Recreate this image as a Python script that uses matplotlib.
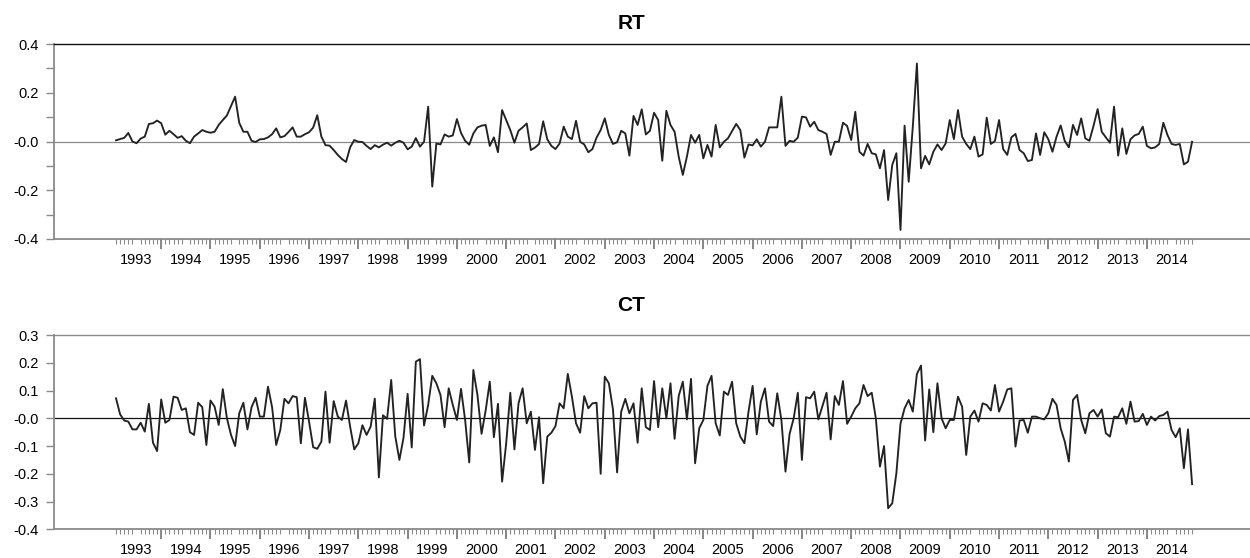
import matplotlib
matplotlib.use('Agg')
import matplotlib.pyplot as plt
import numpy as np
import pandas as pd

plt.rcParams['font.family'] = ['Liberation Sans', 'DejaVu Sans']

# Monthly observations, 1993M02 - 2014M12
months = pd.period_range('1993-02', '2014-12', freq='M')

rt = [0.005, 0.01, 0.015, 0.035, 0.0, -0.007, 0.012, 0.02, 0.072, 0.075,
      0.086, 0.075, 0.028, 0.044, 0.03, 0.015, 0.022, 0.003, -0.007, 0.02,
      0.033, 0.047, 0.04, 0.036, 0.04, 0.068, 0.088, 0.107, 0.145, 0.184,
      0.077, 0.04, 0.04, 0.003, -0.002, 0.009, 0.01, 0.017, 0.03, 0.054,
      0.017, 0.022, 0.039, 0.058, 0.02, 0.02, 0.03, 0.038, 0.057, 0.108,
      0.02, -0.015, -0.017, -0.035, -0.055, -0.072, -0.084, -0.024, 0.006, -0.001,
      -0.002, -0.018, -0.031, -0.015, -0.024, -0.013, -0.005, -0.017, -0.005, 0.003,
      -0.005, -0.032, -0.021, 0.014, -0.021, -0.001, 0.143, -0.185, -0.008, -0.012,
      0.029, 0.02, 0.025, 0.092, 0.035, 0.003, -0.013, 0.033, 0.058, 0.065,
      0.068, -0.018, 0.017, -0.044, 0.129, 0.088, 0.047, -0.005, 0.044, 0.058,
      0.074, -0.035, -0.025, -0.01, 0.083, 0.009, -0.018, -0.031, -0.008, 0.061,
      0.02, 0.01, 0.085, -0.001, -0.012, -0.044, -0.031, 0.016, 0.047, 0.095,
      0.027, -0.01, -0.003, 0.044, 0.033, -0.058, 0.105, 0.068, 0.132, 0.029,
      0.044, 0.118, 0.088, -0.079, 0.126, 0.068, 0.04, -0.062, -0.137, -0.062,
      0.027, -0.005, 0.027, -0.069, -0.014, -0.062, 0.068, -0.024, -0.001, 0.013,
      0.043, 0.072, 0.047, -0.066, -0.012, -0.016, 0.009, -0.021, -0.001, 0.058,
      0.058, 0.058, 0.184, -0.018, 0.003, -0.001, 0.016, 0.102, 0.099, 0.061,
      0.081, 0.047, 0.04, 0.031, -0.055, -0.001, -0.001, 0.077, 0.064, 0.006,
      0.122, -0.042, -0.058, -0.01, -0.048, -0.053, -0.11, -0.035, -0.24, -0.096,
      -0.048, -0.363, 0.065, -0.165, 0.061, 0.32, -0.11, -0.059, -0.094, -0.042,
      -0.012, -0.035, -0.008, 0.088, 0.01, 0.129, 0.02, -0.01, -0.031, 0.02,
      -0.062, -0.053, 0.098, -0.01, 0.002, 0.088, -0.031, -0.055, 0.017, 0.031,
      -0.035, -0.048, -0.08, -0.076, 0.033, -0.055, 0.038, 0.009, -0.042, 0.02,
      0.066, 0.002, -0.024, 0.068, 0.027, 0.095, 0.013, 0.003, 0.064, 0.133,
      0.04, 0.017, -0.005, 0.143, -0.058, 0.054, -0.051, 0.009, 0.025, 0.031,
      0.061, -0.018, -0.028, -0.024, -0.01, 0.077, 0.027, -0.01, -0.014, -0.01,
      -0.094, -0.083, -0.001]

ct = [0.072, 0.014, -0.008, -0.012, -0.04, -0.04, -0.016, -0.048, 0.052, -0.088,
      -0.118, 0.068, -0.016, -0.006, 0.078, 0.074, 0.03, 0.036, -0.05, -0.06,
      0.056, 0.04, -0.096, 0.064, 0.042, -0.024, 0.105, 0.0, -0.06, -0.1,
      0.018, 0.056, -0.04, 0.04, 0.074, 0.006, 0.006, 0.114, 0.04, -0.096,
      -0.042, 0.07, 0.054, 0.08, 0.076, -0.09, 0.074, -0.012, -0.104, -0.11,
      -0.084, 0.096, -0.088, 0.062, 0.006, -0.006, 0.064, -0.03, -0.112, -0.09,
      -0.025, -0.06, -0.03, 0.071, -0.213, 0.011, -0.002, 0.138, -0.066, -0.15,
      -0.07, 0.088, -0.105, 0.204, 0.213, -0.026, 0.048, 0.153, 0.126, 0.084,
      -0.032, 0.108, 0.048, -0.006, 0.106, -0.006, -0.159, 0.174, 0.084, -0.056,
      0.028, 0.132, -0.068, 0.052, -0.228, -0.09, 0.092, -0.112, 0.054, 0.108,
      -0.018, 0.024, -0.114, 0.004, -0.234, -0.066, -0.052, -0.028, 0.054, 0.036,
      0.16, 0.078, -0.018, -0.052, 0.08, 0.036, 0.054, 0.056, -0.2, 0.15,
      0.126, 0.032, -0.195, 0.024, 0.07, 0.018, 0.054, -0.088, 0.108, -0.032,
      -0.042, 0.134, -0.032, 0.108, 0.0, 0.126, -0.074, 0.08, 0.132, -0.004,
      0.142, -0.162, -0.036, -0.006, 0.117, 0.153, -0.018, -0.062, 0.096, 0.084,
      0.132, -0.018, -0.066, -0.09, 0.024, 0.117, -0.058, 0.06, 0.108, -0.012,
      -0.028, 0.09, -0.006, -0.192, -0.056, 0.0, 0.092, -0.15, 0.076, 0.072,
      0.096, -0.004, 0.044, 0.092, -0.076, 0.08, 0.048, 0.134, -0.02, 0.006,
      0.036, 0.054, 0.12, 0.08, 0.092, 0.0, -0.174, -0.1, -0.324, -0.306,
      -0.198, -0.02, 0.036, 0.066, 0.024, 0.16, 0.19, -0.08, 0.104, -0.05,
      0.126, 0.0, -0.036, -0.006, -0.006, 0.078, 0.042, -0.132, 0.006, 0.028,
      -0.012, 0.054, 0.048, 0.028, 0.12, 0.024, 0.06, 0.104, 0.108, -0.102,
      -0.008, -0.006, -0.052, 0.006, 0.006, 0.0, -0.004, 0.018, 0.07, 0.048,
      -0.036, -0.084, -0.156, 0.066, 0.084, -0.006, -0.054, 0.018, 0.03, 0.006,
      0.032, -0.054, -0.066, 0.006, 0.004, 0.036, -0.02, 0.06, -0.012, -0.01,
      0.016, -0.024, 0.006, -0.008, 0.008, 0.012, 0.024, -0.042, -0.068, -0.036,
      -0.18, -0.04, -0.237]

rt_yticks = [-0.4, -0.3, -0.2, -0.1, 0.0, 0.1, 0.2, 0.3, 0.4]
rt_ylabels = ['-0.4', '', '-0.2', '', '-0.0', '', '0.2', '', '0.4']
ct_yticks = [-0.4, -0.3, -0.2, -0.1, 0.0, 0.1, 0.2, 0.3]
ct_ylabels = ['-0.4', '-0.3', '-0.2', '-0.1', '-0.0', '0.1', '0.2', '0.3']

GRAY = '#8a8a8a'
LINE = '#222222'


def draw(ax, y, title, yticks, ylabels, top_color, zero_color, title_pad):
    x = np.arange(len(months))
    ax.plot(x, y, color=LINE, lw=1.35, zorder=3)
    ax.axhline(0, color=zero_color, lw=0.9, zorder=2)
    ax.set_xlim(-15.1, 276.1)
    ax.set_ylim(yticks[0], yticks[-1])

    ax.set_yticks(yticks)
    ax.set_yticklabels(ylabels)
    ax.tick_params(axis='y', length=6, width=1.0, color=GRAY, pad=5, labelsize=10.5)

    # year labels centred on July, monthly minor ticks
    jul = x[months.month == 7]
    ax.set_xticks(jul)
    ax.set_xticklabels([str(y_) for y_ in months.year[months.month == 7]])
    ax.set_xticks(x, minor=True)
    ax.tick_params(axis='x', which='major', length=0, pad=10, labelsize=10.5)
    ax.tick_params(axis='x', which='minor', length=3.5, width=0.8, color=GRAY)

    # longer ticks at the year boundaries
    sec = ax.secondary_xaxis('bottom')
    sec.set_xticks(x[months.month == 1])
    sec.tick_params(length=7, width=1.1, color='#666666', labelbottom=False)
    sec.spines['bottom'].set_visible(False)

    ax.spines['right'].set_visible(False)
    ax.spines['top'].set_color(top_color)
    ax.spines['top'].set_linewidth(1.0)
    for s in ('left', 'bottom'):
        ax.spines[s].set_color(GRAY)
        ax.spines[s].set_linewidth(1.3)
    ax.set_title(title, fontsize=15, fontweight='bold', x=0.4825, pad=title_pad)


fig = plt.figure(figsize=(12.5, 5.58), dpi=100)
ax1 = fig.add_axes([0.0432, 0.5717, 0.9568, 0.3494])
ax2 = fig.add_axes([0.0432, 0.0514, 0.9568, 0.3482])

draw(ax1, rt, 'RT', rt_yticks, rt_ylabels, '#111111', GRAY, 11)
draw(ax2, ct, 'CT', ct_yticks, ct_ylabels, GRAY, '#111111', 17)

fig.savefig('out.png', dpi=100)
